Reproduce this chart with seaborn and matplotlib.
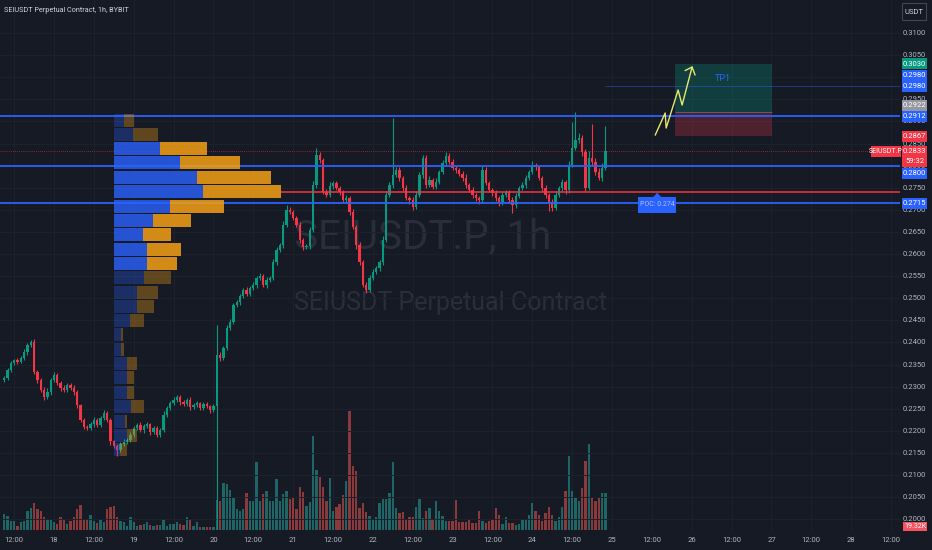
import numpy as np
import pandas as pd
import matplotlib
matplotlib.use("Agg")
import matplotlib.pyplot as plt
import seaborn as sns
from matplotlib.patches import Rectangle, Polygon
from matplotlib import font_manager as fm
from matplotlib.colors import to_rgba

# ---------------- data ----------------
title = "SEIUSDT Perpetual Contract, 1h, BYBIT"
first_hour = 9            # hours after 17 Nov 00:00
first_open = 0.2315
close_prices = [
    0.2320, 0.2338, 0.2353, 0.2360, 0.2356, 0.2365, 0.2378, 0.2394, 0.2401, 0.2333,
    0.2315, 0.2292, 0.2277, 0.2288, 0.2315, 0.2326, 0.2308, 0.2297, 0.2292, 0.2304,
    0.2297, 0.2288, 0.2258, 0.2225, 0.2209, 0.2206, 0.2215, 0.2225, 0.2213, 0.2229,
    0.2240, 0.2225, 0.2177, 0.2166, 0.2157, 0.2170, 0.2175, 0.2179, 0.2191, 0.2206,
    0.2213, 0.2202, 0.2211, 0.2215, 0.2197, 0.2206, 0.2191, 0.2202, 0.2236, 0.2252,
    0.2263, 0.2270, 0.2277, 0.2265, 0.2261, 0.2270, 0.2254, 0.2258, 0.2263, 0.2252,
    0.2261, 0.2256, 0.2247, 0.2256, 0.2372, 0.2365, 0.2387, 0.2433, 0.2446, 0.2485,
    0.2491, 0.2505, 0.2519, 0.2510, 0.2523, 0.2530, 0.2546, 0.2550, 0.2530, 0.2541,
    0.2546, 0.2582, 0.2609, 0.2620, 0.2666, 0.2700, 0.2695, 0.2682, 0.2666, 0.2632,
    0.2616, 0.2618, 0.2654, 0.2756, 0.2824, 0.2813, 0.2740, 0.2734, 0.2754, 0.2761,
    0.2749, 0.2740, 0.2722, 0.2727, 0.2695, 0.2661, 0.2620, 0.2582, 0.2530, 0.2519,
    0.2546, 0.2559, 0.2568, 0.2582, 0.2632, 0.2734, 0.2756, 0.2779, 0.2790, 0.2772,
    0.2749, 0.2727, 0.2722, 0.2706, 0.2734, 0.2779, 0.2817, 0.2756, 0.2767, 0.2752,
    0.2763, 0.2786, 0.2806, 0.2822, 0.2808, 0.2795, 0.2790, 0.2781, 0.2772, 0.2756,
    0.2745, 0.2734, 0.2727, 0.2722, 0.2790, 0.2761, 0.2745, 0.2738, 0.2727, 0.2718,
    0.2734, 0.2740, 0.2722, 0.2711, 0.2731, 0.2749, 0.2756, 0.2772, 0.2786, 0.2801,
    0.2797, 0.2772, 0.2749, 0.2734, 0.2718, 0.2704, 0.2734, 0.2749, 0.2763, 0.2745,
    0.2801, 0.2840, 0.2858, 0.2862, 0.2831, 0.2749, 0.2817, 0.2808, 0.2786, 0.2772,
    0.2795, 0.2833,
]
# wick lengths above / below the body, in 0.0001 USDT
upper_wick = [
    4, 5, 6, 3, 5, 4, 6, 5, 4, 6,
    5, 4, 6, 8, 5, 7, 4, 5, 6, 4,
    5, 6, 4, 3, 5, 4, 6, 7, 5, 4,
    6, 5, 4, 3, 5, 4, 6, 5, 7, 4,
    5, 6, 4, 5, 3, 6, 4, 5, 8, 5,
    4, 6, 5, 3, 5, 4, 6, 5, 4, 3,
    5, 4, 3, 5, 68, 6, 5, 7, 8, 5,
    6, 4, 5, 7, 4, 6, 5, 8, 4, 6,
    5, 7, 6, 5, 8, 10, 6, 4, 5, 6,
    5, 4, 8, 9, 16, 7, 5, 6, 9, 5,
    4, 6, 5, 7, 5, 6, 4, 8, 5, 6,
    7, 6, 5, 4, 9, 8, 8, 129, 8, 6,
    5, 7, 4, 6, 8, 6, 8, 7, 10, 6,
    8, 5, 6, 9, 7, 6, 5, 4, 6, 8,
    5, 6, 4, 5, 10, 6, 5, 4, 6, 5,
    7, 5, 4, 6, 8, 5, 6, 7, 5, 9,
    6, 5, 4, 7, 5, 6, 8, 4, 6, 5,
    10, 59, 64, 12, 8, 6, 15, 77, 10, 9,
    12, 56,
]
lower_wick = [
    5, 4, 6, 5, 4, 3, 5, 6, 4, 5,
    6, 5, 7, 4, 6, 5, 4, 6, 5, 4,
    5, 6, 7, 5, 6, 4, 5, 6, 4, 5,
    4, 6, 8, 5, 14, 6, 4, 5, 4, 6,
    5, 4, 6, 5, 7, 4, 6, 5, 4, 5,
    6, 4, 5, 7, 5, 4, 6, 5, 4, 6,
    5, 4, 6, 4, 300, 6, 5, 4, 6, 5,
    4, 6, 5, 4, 6, 5, 7, 4, 5, 6,
    5, 4, 6, 5, 7, 6, 5, 4, 6, 8,
    6, 5, 7, 4, 6, 8, 5, 6, 4, 7,
    5, 6, 4, 7, 6, 5, 8, 6, 5, 7,
    6, 4, 5, 7, 6, 5, 4, 6, 5, 7,
    6, 5, 8, 7, 5, 4, 6, 7, 5, 6,
    4, 5, 6, 7, 5, 4, 6, 5, 7, 6,
    5, 7, 6, 8, 6, 5, 4, 6, 7, 9,
    6, 5, 7, 18, 6, 5, 4, 6, 5, 4,
    6, 5, 7, 8, 20, 6, 5, 4, 7, 9,
    6, 5, 4, 6, 10, 7, 5, 6, 8, 5,
    6, 4,
]
volume_k = [
    8.3, 7.3, 4.7, 4.7, 2.1, 4.2, 4.7, 9.9, 11.4,
    14.0, 10.9, 9.9, 6.8, 5.7, 5.2, 4.2, 3.1, 6.8, 5.2,
    3.1, 4.7, 6.8, 10.9, 13.0, 5.7, 5.7, 7.8, 4.7, 3.6,
    5.2, 4.2, 10.9, 12.0, 12.5, 6.8, 4.7, 4.2, 2.1, 6.8,
    4.2, 2.1, 2.6, 3.1, 4.2, 2.6, 2.1, 2.6, 2.6, 5.7,
    2.1, 3.1, 3.1, 4.2, 3.1, 2.6, 6.8, 5.2, 2.1, 4.2,
    1.6, 1.6, 1.6, 1.6, 1.6, 15.6, 15.1, 24.4, 23.9, 20.8,
    16.6, 10.9, 9.9, 10.9, 19.2, 15.1, 15.1, 35.4, 15.1, 18.7,
    20.3, 15.1, 15.1, 26.5, 15.1, 18.7, 20.3, 16.1, 16.6, 10.9,
    22.4, 19.8, 12.5, 14.6, 48.9, 31.2, 27.6, 22.4, 15.1, 27.0,
    9.9, 12.0, 13.5, 18.2, 25.5, 61.9, 33.3, 30.7, 11.4, 14.0,
    9.4, 7.3, 5.2, 6.8, 14.0, 16.1, 16.1, 19.2, 35.4, 11.4,
    8.8, 9.4, 5.7, 6.8, 6.8, 12.0, 16.1, 6.2, 9.9, 11.4,
    5.2, 15.1, 9.9, 7.3, 4.7, 4.7, 4.7, 15.6, 4.2, 4.2,
    4.2, 5.7, 3.6, 3.6, 9.9, 4.7, 3.6, 4.7, 5.7, 11.4,
    7.8, 3.1, 6.8, 3.6, 3.6, 2.6, 3.1, 5.7, 5.7, 7.8,
    14.0, 9.9, 7.8, 4.7, 8.8, 12.0, 7.8, 4.7, 6.8, 12.0,
    20.3, 38.5, 20.3, 16.6, 15.1, 21.8, 35.9, 44.7, 17.2, 15.1,
    16.6, 19.2, 19.32,
]
# visible-range volume profile (rows top -> bottom)
vp_levels = [0.2903, 0.2871, 0.2838, 0.2806, 0.2773, 0.2741, 0.2708, 0.2676,
             0.2644, 0.2611, 0.2579, 0.2546, 0.2514, 0.2482, 0.2449, 0.2417,
             0.2384, 0.2352, 0.2320, 0.2287, 0.2255, 0.2222, 0.2190, 0.2157]
vp_buy = [10, 19, 46, 66, 83, 89, 56, 39, 29, 33, 33, 30, 23, 23, 16, 7, 7, 13, 13, 13, 17, 11, 13, 6]
vp_sell = [10, 25, 47, 60, 74, 78, 54, 38, 28, 34, 30, 27, 21, 17, 14, 2, 3, 10, 7, 7, 13, 2, 10, 7]
value_area_rows = (2, 10)

support_lines = [0.2912, 0.2800, 0.2715]
poc_price = 0.2740
last_price = 0.2833
entry_price, tp_price, sl_price = 0.2922, 0.3030, 0.2867
tp_line = 0.2980
position_hours = (211.0, 240.2)
tp1_pos = (225.4, 0.2998)
arrow_h = [205.0, 208.0, 208.3, 211.9, 213.1, 216.1]
arrow_p = [0.2869, 0.2919, 0.2885, 0.2971, 0.2937, 0.3023]
arrow_head_h = [214.0, 216.1, 217.0]
arrow_head_p = [0.3015, 0.3023, 0.3005]
poc_label_h = 205.6

price_ticks = np.round(np.arange(0.2000, 0.31001, 0.005), 4)
time_labels = ["12:00", "18", "12:00", "19", "12:00", "20", "12:00", "21", "12:00", "22",
               "12:00", "23", "12:00", "24", "12:00", "25", "12:00", "26", "12:00", "27",
               "12:00", "28", "12:00"]
time_hours = 12 + 12 * np.arange(len(time_labels))

# ---------------- style ----------------
sns.set_theme(style="dark")


def pick_font(cands):
    for f in cands:
        try:
            fm.findfont(fm.FontProperties(family=f), fallback_to_default=False)
            return f
        except Exception:
            continue
    return "DejaVu Sans"


FONT = pick_font(["Liberation Sans Narrow", "Roboto", "DejaVu Sans"])
plt.rcParams["font.family"] = [FONT, "DejaVu Sans"]

BG = "#161a25"
GRID = "#1e222d"
UP = "#089981"
DOWN = "#f23645"
VUP = "#26a69a"
VDOWN = "#ef5350"
BLUE = "#2962ff"
ORANGE = "#f5a015"
TXT = "#b2b5be"
YEL = "#e8e86a"
WM = "#2a2e3a"

close = np.array(close_prices)
open_ = np.concatenate([[first_open], close[:-1]])
high = np.maximum(open_, close) + np.array(upper_wick) * 1e-4
low = np.minimum(open_, close) - np.array(lower_wick) * 1e-4
hours = first_hour + np.arange(len(close))
is_up = close >= open_
df = pd.DataFrame({"hour": hours, "open": open_, "close": close, "high": high,
                   "low": low, "volume": volume_k,
                   "dir": np.where(is_up, "up", "down")})

W, H = 932, 550
fig = plt.figure(figsize=(W / 100, H / 100), dpi=100, facecolor=BG)
rect = [0, 20 / H, 900 / W, 530 / H]
axv = fig.add_axes(rect)
ax = fig.add_axes(rect)
axp = fig.add_axes(rect)
for a in (axv, ax, axp):
    a.set_axis_off()

X0, X1 = 7.74, 278.7
P0, P1 = 0.19756, 0.31747
VOL_TOP = 275.6

# --- volume layer (bottom) ---
for h in time_hours:
    axv.axvline(h, color=GRID, lw=0.7, zorder=0)
axv.text(0.47, 0.553, "SEIUSDT.P, 1h", transform=axv.transAxes, ha="center", va="center",
         fontsize=29, color=WM, zorder=0)
axv.text(0.50, 0.428, "SEIUSDT Perpetual Contract", transform=axv.transAxes, ha="center",
         va="center", fontsize=18, color=WM, zorder=0)
sns.barplot(data=df, x="hour", y="volume", hue="dir", palette={"up": VUP, "down": VDOWN},
            native_scale=True, dodge=False, width=0.7, alpha=0.55, saturation=1,
            errorbar=None, legend=False, linewidth=0, ax=axv)
axv.set_xlim(X0, X1)
axv.set_ylim(0, VOL_TOP)
axv.set_axis_off()

# --- price layer ---
ax.set_xlim(X0, X1)
ax.set_ylim(P0, P1)
for p in price_ticks:
    ax.axhline(p, color=GRID, lw=0.7, zorder=0)
cols = np.where(is_up, UP, DOWN)
ax.vlines(df["hour"], df["low"], df["high"], colors=cols, lw=0.8, zorder=2)
ax.bar(df["hour"], np.maximum(np.abs(df["close"] - df["open"]), 0.00006),
       bottom=np.minimum(df["open"], df["close"]), width=0.7, color=cols, linewidth=0, zorder=3)
for p in support_lines:
    ax.axhline(p, color=BLUE, lw=1.3, zorder=4)
ax.axhline(last_price, color=DOWN, lw=0.6, ls=(0, (1, 1.5)), alpha=0.7, zorder=4)
ax.hlines(tp_line, hours[-1], X1, color=BLUE, lw=0.6, alpha=0.5, zorder=4)

# long position tool
ps, pe = position_hours
ax.add_patch(Rectangle((ps, entry_price), pe - ps, tp_price - entry_price,
                       facecolor=UP, alpha=0.28, lw=0, zorder=1))
ax.add_patch(Rectangle((ps, sl_price), pe - ps, entry_price - sl_price,
                       facecolor=DOWN, alpha=0.25, lw=0, zorder=1))
ax.hlines(entry_price, ps, pe, color="#8a8e9a", lw=0.6, alpha=0.6, zorder=1)
ax.text(tp1_pos[0], tp1_pos[1], "TP1", color=BLUE, fontsize=6.5, ha="center", va="center", zorder=5)
ax.plot(arrow_h, arrow_p, color=YEL, lw=1.0, zorder=5)
ax.plot(arrow_head_h, arrow_head_p, color=YEL, lw=1.0, zorder=5)

# --- volume profile layer ---
axp.set_xlim(-114, 786)
axp.set_ylim(P0, P1)
va0, va1 = value_area_rows
in_va = [(va0 <= i <= va1) for i in range(len(vp_levels))]
bcol = [to_rgba(BLUE, 0.8 if v else 0.3) for v in in_va]
scol = [to_rgba(ORANGE, 0.85 if v else 0.33) for v in in_va]
axp.barh(vp_levels, vp_buy, height=0.00295, left=0, color=bcol, linewidth=0, zorder=3)
axp.barh(vp_levels, vp_sell, height=0.00295, left=vp_buy, color=scol, linewidth=0, zorder=3)
tot = np.array(vp_buy) + np.array(vp_sell)
poc_i = int(np.argmax(tot))
axp.hlines(poc_price, tot[poc_i], 786, color=DOWN, lw=1.1, zorder=4)
axp.set_axis_off()

fig.canvas.draw()


def disp(h, p):
    return ax.transData.transform((h, p))


# POC label
tx, ty = disp(poc_label_h, poc_price)
fig.patches.append(Polygon([((tx - 4) / W, (ty - 5) / H), ((tx + 4) / W, (ty - 5) / H), (tx / W, (ty - 0.5) / H)],
                           closed=True, transform=fig.transFigure, facecolor=BLUE, lw=0, zorder=6))
fig.patches.append(Rectangle(((tx - 19) / W, (ty - 20.5) / H), 38 / W, 15.5 / H,
                             transform=fig.transFigure, facecolor=BLUE, lw=0, zorder=6))
fig.text(tx / W, (ty - 12.8) / H, "POC: 0.274", ha="center", va="center", fontsize=5,
         color="#aebfff", zorder=7)

# right-axis tags: (text lines, price, colour, shift px down, height)
tags = [
    ([("0.3030", 0)], tp_price, UP, 0, 11),
    ([("0.2980", 0)], tp_line, BLUE, -11, 11),
    ([("0.2980", 0)], tp_line, BLUE, 0, 11),
    ([("0.2922", 0)], entry_price, "#9598a1", -6.5, 11),
    ([("0.2912", 0)], support_lines[0], BLUE, 0, 11),
    ([("0.2867", 0)], sl_price, DOWN, 0, 11),
    ([(f"{last_price:.4f}", -5), ("59:32", 5)], last_price, DOWN, 5, 21),
    ([("0.2800", 0)], support_lines[1], BLUE, 7.5, 11),
    ([("0.2715", 0)], support_lines[2], BLUE, 0, 11),
]
boxes = []
for texts, price, color, dy, hh in tags:
    y = disp(X0, price)[1] - dy
    boxes.append((y - hh / 2, y + hh / 2))
    fig.patches.append(Rectangle((902 / W, (y - hh / 2) / H), 25 / W, hh / H, transform=fig.transFigure,
                                 facecolor=color, lw=0, zorder=4))
    for t, off in texts:
        fig.text(914.5 / W, (y - off) / H, t, ha="center", va="center", fontsize=5.5,
                 color="white", zorder=5)

# price axis tick labels (the ones fully hidden under a tag are not drawn)
for p in price_ticks:
    y = disp(X0, p)[1]
    if any(lo + 2 < y < hi - 2 for lo, hi in boxes):
        continue
    fig.text(903 / W, y / H, f"{p:.4f}", ha="left", va="center", fontsize=5.5, color=TXT, zorder=3)

# symbol tag
ys = disp(X0, last_price)[1]
fig.patches.append(Rectangle((871 / W, (ys - 5.5) / H), 30 / W, 11 / H, transform=fig.transFigure,
                             facecolor=DOWN, lw=0, zorder=4))
fig.text(886 / W, ys / H, "SEIUSDT.P", ha="center", va="center", fontsize=5, color="white", zorder=5)

# volume tag
fig.patches.append(Rectangle((903 / W, 19 / H), 24 / W, 9.5 / H, transform=fig.transFigure,
                             facecolor="#f7525f", lw=0, zorder=4))
fig.text(915 / W, 23.8 / H, "19.32K", ha="center", va="center", fontsize=5, color="white", zorder=5)

# USDT box
fig.patches.append(Rectangle((902 / W, (H - 20) / H), 24 / W, 17 / H, transform=fig.transFigure,
                             facecolor=BG, edgecolor="#434651", lw=0.8, zorder=4))
fig.text(914 / W, (H - 11.5) / H, "USDT", ha="center", va="center", fontsize=5.5, color="#d1d4dc", zorder=5)

# time axis labels
for h, lab in zip(time_hours, time_labels):
    x = disp(h, P0)[0]
    fig.text(x / W, 10 / H, lab, ha="center", va="center", fontsize=5.5, color=TXT)

# title
fig.text(4 / W, (H - 11) / H, title, ha="left", va="center", fontsize=5.2, color="#d1d4dc")

fig.savefig("out.png", dpi=100, facecolor=BG)
